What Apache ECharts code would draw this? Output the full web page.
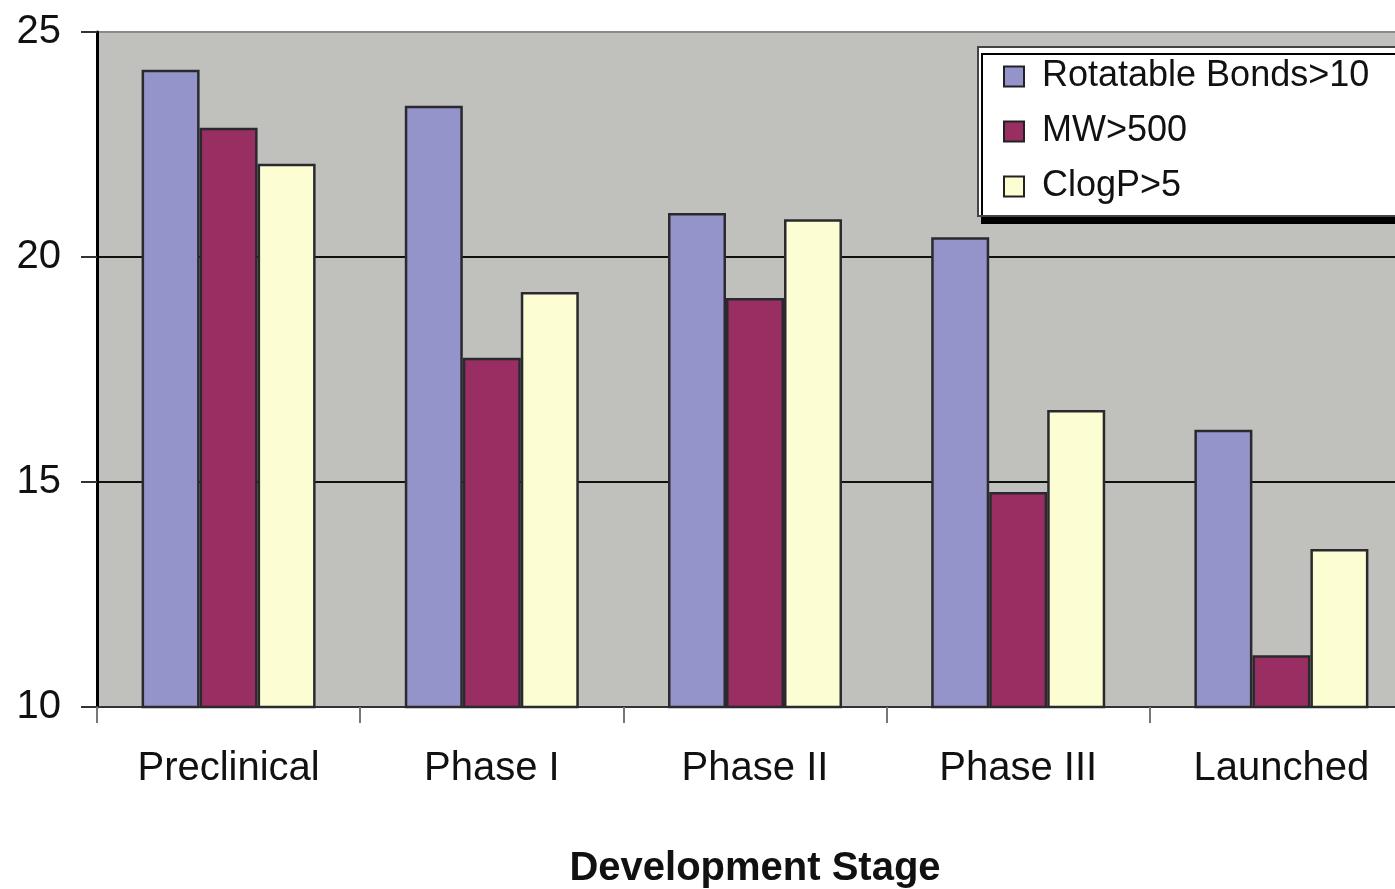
<!DOCTYPE html>
<html>
<head>
<meta charset="utf-8">
<script src="https://cdn.jsdelivr.net/npm/echarts@6/dist/echarts.min.js"></script>
<style>
html,body{margin:0;padding:0;background:#fff;}
#c{width:1395px;height:889px;}
</style>
</head>
<body>
<div id="c"></div>
<script>
const categories = ['Preclinical', 'Phase I', 'Phase II', 'Phase III', 'Launched'];
const seriesNames = ['Rotatable Bonds>10', 'MW>500', 'ClogP>5'];
const rotatableBonds = [24.16, 23.36, 20.98, 20.44, 16.16];
const mw500 = [22.87, 17.76, 19.09, 14.78, 11.15];
const clogp5 = [22.07, 19.22, 20.84, 16.6, 13.51];
const yTicks = [10, 15, 20, 25];
const colors = ['#9494cb', '#982e62', '#fcfdd2'];

const chart = echarts.init(document.getElementById('c'));
const FONT = 'Liberation Sans, Arial, sans-serif';
const values = [rotatableBonds, mw500, clogp5];

chart.setOption({
  animation: false,
  backgroundColor: '#ffffff',
  textStyle: { fontFamily: FONT },
  grid: {
    left: 97, right: -18, top: 32, bottom: 182,
    outerBoundsMode: 'none',
    containLabel: false,
    show: true, backgroundColor: '#c0c1bd', borderWidth: 0
  },
  legend: {
    orient: 'vertical',
    left: 978, top: 47,
    padding: [11, 80, 11, 25],
    itemGap: 18,
    itemWidth: 20, itemHeight: 20,
    icon: 'rect',
    backgroundColor: '#ffffff',
    borderColor: '#444',
    borderWidth: 2,
    borderRadius: 0,
    shadowColor: '#000',
    shadowOffsetX: 4, shadowOffsetY: 7, shadowBlur: 0,
    itemStyle: { borderColor: '#222', borderWidth: 2 },
    textStyle: { fontSize: 36, color: '#111', fontFamily: FONT, lineHeight: 37, padding: [0, 0, 0, 13] },
    data: seriesNames
  },
  xAxis: {
    type: 'category',
    data: categories,
    name: 'Development Stage',
    nameLocation: 'middle',
    nameGap: 142,
    nameTextStyle: { fontSize: 40, fontWeight: 'bold', color: '#111', fontFamily: FONT },
    axisLine: { show: true, lineStyle: { color: '#333', width: 2 } },
    axisTick: { show: true, length: 16, lineStyle: { color: '#777', width: 2 } },
    axisLabel: { fontSize: 40, color: '#111', margin: 42, fontFamily: FONT },
    splitLine: { show: false }
  },
  yAxis: {
    type: 'value',
    min: yTicks[0], max: yTicks[yTicks.length - 1], interval: 5,
    axisLine: { show: true, lineStyle: { color: '#000', width: 3 } },
    axisTick: { show: true, inside: false, length: 16, lineStyle: { color: '#333', width: 2 } },
    axisLabel: { fontSize: 40, color: '#111', margin: 36, fontFamily: FONT },
    splitLine: { show: true, lineStyle: { color: ['#333', '#111', '#111', '#8a8a8a'], width: 2 } }
  },
  series: seriesNames.map((n, i) => ({
    name: n,
    type: 'bar',
    data: values[i],
    barWidth: 58,
    barGap: '0%',
    itemStyle: { color: colors[i], borderColor: '#2a2a2e', borderWidth: 2.5 }
  }))
});
</script>
</body>
</html>
